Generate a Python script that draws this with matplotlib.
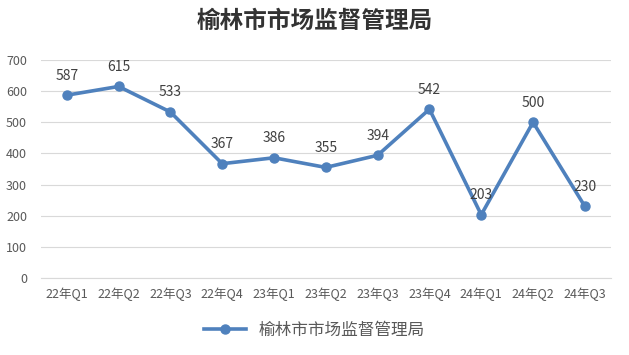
import matplotlib.pyplot as plt
import numpy as np

plt.rcParams['font.family'] = ['Noto Sans CJK SC', 'DejaVu Sans']

title = "榆林市市场监督管理局"
quarters = ["22年Q1", "22年Q2", "22年Q3", "22年Q4", "23年Q1", "23年Q2",
            "23年Q3", "23年Q4", "24年Q1", "24年Q2", "24年Q3"]
counts = [587, 615, 533, 367, 386, 355, 394, 542, 203, 500, 230]
yticks = [0, 100, 200, 300, 400, 500, 600, 700]

blue = "#4F81BD"
text_grey = "#595959"

fig = plt.figure(figsize=(6.29, 3.55), dpi=100)
ax = fig.add_axes([0.065, 0.217, 0.906, 0.614])

x = np.arange(len(quarters))
ax.plot(x, counts, color=blue, linewidth=2.6, marker="o", markersize=6.5,
        label=title, zorder=3)
for xi, v in zip(x, counts):
    ax.annotate(str(v), (xi, v), xytext=(0, 9), textcoords="offset points",
                ha="center", va="bottom", fontsize=10, color="#404040")

ax.set_xlim(-0.5, len(quarters) - 0.5)
ax.set_ylim(0, 700)
ax.set_yticks(yticks)
ax.set_xticks(x)
ax.set_xticklabels(quarters)
ax.tick_params(axis="both", length=0, labelsize=9, colors=text_grey)
ax.tick_params(axis="y", pad=10)
ax.tick_params(axis="x", pad=7)
ax.grid(axis="y", color="#D9D9D9", linewidth=0.8)
ax.set_axisbelow(True)
for side in ["top", "right", "left"]:
    ax.spines[side].set_visible(False)
ax.spines["bottom"].set_color("#D9D9D9")

fig.text(0.5, 0.94, title, ha="center", va="center", fontsize=17,
         fontweight="bold", color="#333333")
fig.legend(loc="center", bbox_to_anchor=(0.5, 0.07), frameon=False,
           fontsize=12, labelcolor=text_grey, handlelength=2.5)

fig.savefig("out.png", dpi=100)
